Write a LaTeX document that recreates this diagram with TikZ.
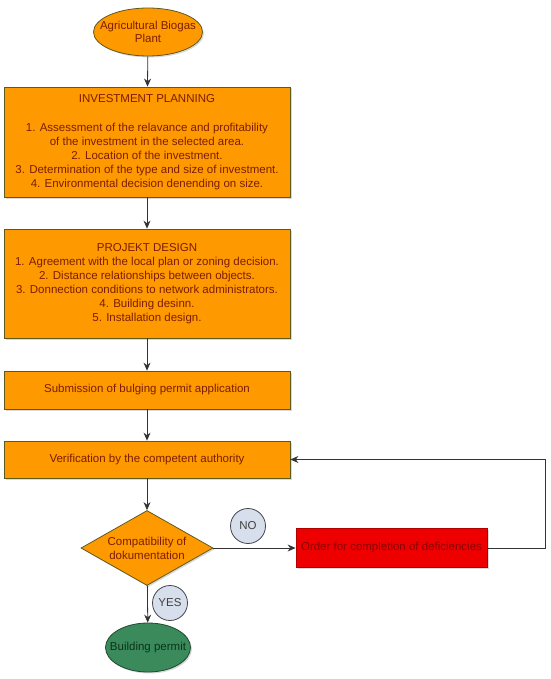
\documentclass[tikz,border=0pt]{standalone}
\usepackage{fontspec}
\setmainfont{Liberation Sans}
\usetikzlibrary{shapes.geometric,arrows.meta,shadows}

\definecolor{stagefill}{HTML}{FF9900}
\definecolor{stageline}{HTML}{5E5A1E}
\definecolor{stagetext}{HTML}{7A1E00}
\definecolor{orderfill}{HTML}{EE0000}
\definecolor{orderline}{HTML}{B00000}
\definecolor{ordertext}{HTML}{8A0000}
\definecolor{permitfill}{HTML}{3A8A5C}
\definecolor{permitline}{HTML}{1E4A2E}
\definecolor{permittext}{HTML}{0C3318}
\definecolor{tagfill}{HTML}{D8DFEC}
\definecolor{tagline}{HTML}{44454F}

\begin{document}
\begin{tikzpicture}[x=1pt,y=-1pt,font=\fontsize{11.5}{14}\selectfont,
  shade/.style={drop shadow={shadow xshift=1.5pt,shadow yshift=-1.5pt,opacity=0.3}},
  stage/.style={rectangle,draw=stageline,fill=stagefill,text=stagetext,line width=0.8pt,
    minimum width=286pt,inner sep=0pt,align=center,shade},
  start/.style={ellipse,draw=stageline,fill=stagefill,line width=0.8pt,
    minimum width=109pt,minimum height=48pt,inner sep=0pt,shade,
    label={[align=center,text=stagetext,font=\fontsize{11.5}{13}\selectfont]center:#1}},
  check/.style={diamond,draw=stageline,fill=stagefill,line width=0.8pt,
    minimum width=132pt,minimum height=75pt,inner sep=0pt,shade,
    label={[align=center,text=stagetext]center:#1}},
  order/.style={rectangle,draw=orderline,fill=orderfill,text=ordertext,line width=0.8pt,
    minimum width=191pt,minimum height=39pt,inner sep=0pt,shade},
  permit/.style={ellipse,draw=permitline,fill=permitfill,line width=0.8pt,
    minimum width=85pt,minimum height=49pt,inner sep=0pt,shade,
    label={[text=permittext]center:#1}},
  tag/.style={circle,draw=tagline,fill=tagfill,text=black!75,line width=0.8pt,
    minimum size=35pt,inner sep=0pt},
  flow/.style={draw=black!80,line width=0.8pt,-{Stealth[length=8pt,width=7pt]}}]
\useasboundingbox (0,0) rectangle (550,679);

\node[start={Agricultural Biogas\\Plant}] (biogas) at (148,32) {};

\node[stage,minimum height=110pt] (planning) at (147,142)
  {INVESTMENT PLANNING\\[15pt]
   1. Assessment of the relavance and profitability\\
   of the investment in the selected area.\\
   2. Location of the investment.\\
   3. Determination of the type and size of investment.\\
   4. Environmental decision denending on size.};

\node[stage,minimum height=109pt] (design) at (147,283.5)
  {PROJEKT DESIGN\\
   1. Agreement with the local plan or zoning decision.\\
   2. Distance relationships between objects.\\
   3. Donnection conditions to network administrators.\\
   4. Building desinn.\\
   5. Installation design.};

\node[stage,minimum height=38pt] (submission) at (147,390)
  {Submission of bulging permit application};

\node[stage,minimum height=37pt] (verification) at (147,459.5)
  {Verification by the competent authority};

\node[check={Compatibility of\\dokumentation}] (compat) at (147,548) {};

\node[order] (deficiency) at (391.5,548) {Order for completion of deficiencies};

\node[permit={Building permit}] (building) at (148,647.5) {};

\node[tag] (no) at (248,526) {NO};
\node[tag] (yes) at (170,603) {YES};

% main flow
\draw[flow] (biogas) -- (planning);
\draw[flow] (planning) -- (design);
\draw[flow] (design) -- (submission);
\draw[flow] (submission) -- (verification);
\draw[flow] (verification) -- (compat);
\draw[flow] (compat) -- (building);
% rejection loop
\draw[flow] (compat) -- (deficiency);
\draw[flow] (deficiency.east) -- ++(58,0) |- (verification.east);
\end{tikzpicture}
\end{document}
